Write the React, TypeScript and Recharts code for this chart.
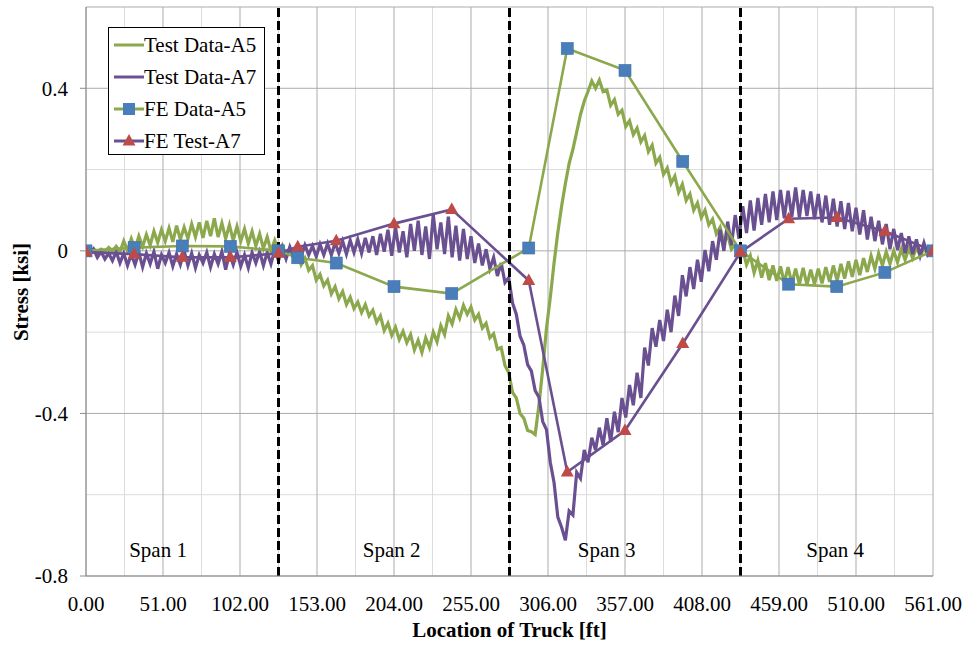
import React from 'react';
import {
  ComposedChart,
  Line,
  XAxis,
  YAxis,
  CartesianGrid,
  ReferenceLine,
  ReferenceDot,
  Legend,
} from 'recharts';

// ---------- data ----------
// Test readings were sampled every 2.5 ft of truck travel (0 ... 560 ft)
const SAMPLE_STEP = 2.5;

// Test Data-A5 (stress, ksi), rows of 8 readings = 20 ft each
const testA5: number[] = [
  0.000, -0.004, 0.005, -0.003, 0.004, -0.002, 0.008, -0.001, // 0
  0.011, -0.002, 0.024, 0.000, 0.030, 0.005, 0.036, 0.010, // 20
  0.040, 0.014, 0.048, 0.020, 0.052, 0.024, 0.056, 0.022, // 40
  0.062, 0.028, 0.058, 0.030, 0.066, 0.034, 0.070, 0.032, // 60
  0.074, 0.036, 0.080, 0.034, 0.068, 0.030, 0.064, 0.026, // 80
  0.060, 0.024, 0.054, 0.018, 0.048, 0.012, 0.042, 0.006, // 100
  0.034, 0.000, 0.026, -0.002, 0.014, -0.010, 0.006, -0.018, // 120
  -0.004, -0.034, -0.018, -0.048, -0.036, -0.072, -0.058, -0.086, // 140
  -0.072, -0.106, -0.088, -0.118, -0.100, -0.132, -0.114, -0.142, // 160
  -0.126, -0.152, -0.132, -0.160, -0.146, -0.176, -0.160, -0.196, // 180
  -0.178, -0.208, -0.188, -0.218, -0.198, -0.226, -0.206, -0.244, // 200
  -0.220, -0.250, -0.214, -0.238, -0.200, -0.224, -0.184, -0.206, // 220
  -0.160, -0.180, -0.144, -0.166, -0.134, -0.156, -0.138, -0.170, // 240
  -0.156, -0.190, -0.178, -0.214, -0.204, -0.242, -0.238, -0.282, // 260
  -0.300, -0.348, -0.362, -0.400, -0.412, -0.442, -0.445, -0.452, // 280
  -0.380, -0.290, -0.190, -0.115, -0.030, 0.045, 0.110, 0.165, // 300
  0.215, 0.250, 0.292, 0.335, 0.368, 0.392, 0.418, 0.400, // 320
  0.420, 0.392, 0.396, 0.358, 0.372, 0.336, 0.346, 0.306, // 340
  0.320, 0.286, 0.302, 0.268, 0.284, 0.244, 0.260, 0.216, // 360
  0.230, 0.188, 0.204, 0.166, 0.184, 0.144, 0.164, 0.124, // 380
  0.140, 0.100, 0.118, 0.082, 0.100, 0.064, 0.078, 0.042, // 400
  0.058, 0.022, 0.038, 0.004, 0.016, -0.012, 0.002, -0.034, // 420
  -0.012, -0.054, -0.024, -0.066, -0.030, -0.072, -0.036, -0.074, // 440
  -0.038, -0.078, -0.040, -0.080, -0.044, -0.082, -0.042, -0.084, // 460
  -0.046, -0.082, -0.044, -0.080, -0.040, -0.076, -0.036, -0.074, // 480
  -0.032, -0.068, -0.026, -0.064, -0.022, -0.060, -0.018, -0.052, // 500
  -0.012, -0.044, -0.006, -0.036, -0.002, -0.032, 0.000, -0.028, // 520
  0.004, -0.022, 0.006, -0.018, 0.008, -0.012, 0.006, -0.008, // 540
  0.000, // 560
];

// Test Data-A7 (stress, ksi)
const testA7: number[] = [
  0.000, -0.010, 0.004, -0.016, -0.002, -0.020, -0.006, -0.024, // 0
  -0.002, -0.030, -0.006, -0.036, -0.008, -0.034, -0.004, -0.040, // 20
  -0.006, -0.032, -0.002, -0.044, -0.010, -0.030, -0.004, -0.038, // 40
  -0.008, -0.034, 0.000, -0.036, -0.006, -0.042, -0.010, -0.030, // 60
  -0.004, -0.040, -0.008, -0.032, -0.002, -0.046, -0.006, -0.034, // 80
  -0.004, -0.038, -0.010, -0.042, -0.004, -0.030, -0.002, -0.036, // 100
  -0.004, -0.032, 0.002, -0.024, 0.006, -0.020, 0.010, -0.014, // 120
  0.012, -0.012, 0.014, -0.010, 0.012, -0.014, 0.016, -0.010, // 140
  0.018, -0.010, 0.020, -0.006, 0.024, -0.008, 0.026, -0.004, // 160
  0.028, -0.006, 0.032, -0.004, 0.036, -0.010, 0.042, -0.002, // 180
  0.052, -0.012, 0.058, -0.004, 0.048, -0.016, 0.066, 0.000, // 200
  0.074, -0.010, 0.060, -0.020, 0.090, 0.004, 0.070, -0.008, // 220
  0.084, -0.016, 0.062, -0.024, 0.054, -0.020, 0.036, -0.030, // 240
  0.018, -0.036, 0.004, -0.044, -0.016, -0.062, -0.030, -0.078, // 260
  -0.066, -0.128, -0.156, -0.210, -0.232, -0.280, -0.296, -0.344, // 280
  -0.360, -0.420, -0.440, -0.520, -0.570, -0.655, -0.680, -0.712, // 300
  -0.640, -0.650, -0.545, -0.560, -0.490, -0.520, -0.460, -0.490, // 320
  -0.435, -0.478, -0.412, -0.470, -0.396, -0.446, -0.362, -0.410, // 340
  -0.330, -0.380, -0.300, -0.362, -0.238, -0.282, -0.190, -0.236, // 360
  -0.170, -0.222, -0.145, -0.200, -0.110, -0.160, -0.060, -0.112, // 380
  -0.040, -0.094, -0.022, -0.076, 0.002, -0.050, 0.024, -0.022, // 400
  0.052, 0.000, 0.072, 0.014, 0.088, 0.030, 0.110, 0.044, // 420
  0.124, 0.050, 0.130, 0.064, 0.140, 0.070, 0.146, 0.076, // 440
  0.150, 0.080, 0.148, 0.084, 0.156, 0.082, 0.150, 0.086, // 460
  0.146, 0.078, 0.140, 0.070, 0.136, 0.064, 0.128, 0.060, // 480
  0.122, 0.054, 0.118, 0.048, 0.106, 0.040, 0.100, 0.028, // 500
  0.084, 0.024, 0.074, 0.016, 0.066, 0.004, 0.054, 0.002, // 520
  0.044, -0.006, 0.036, -0.008, 0.028, -0.012, 0.020, -0.010, // 540
  0.000, // 560
];

// FE model results
const feX: number[] = [0, 31.875, 63.75, 95.625, 127.5, 140.25, 165.75, 204, 242.25, 293.25, 318.75, 357, 395.25, 433.5, 465.375, 497.25, 529.125, 561];
const feA5: number[] = [0, 0.008, 0.012, 0.011, 0, -0.017, -0.03, -0.088, -0.105, 0.007, 0.498, 0.444, 0.22, 0, -0.082, -0.088, -0.053, 0];
const feA7: number[] = [-0.003, -0.008, -0.016, -0.016, -0.006, 0.01, 0.025, 0.067, 0.102, -0.073, -0.544, -0.442, -0.228, -0.003, 0.079, 0.082, 0.048, 0];

// axes
const xTicks: number[] = [0, 51, 102, 153, 204, 255, 306, 357, 408, 459, 510, 561];
const xMinor: number[] = [25.5, 76.5, 127.5, 178.5, 229.5, 280.5, 331.5, 382.5, 433.5, 484.5, 535.5];
const yTicks: number[] = [-0.8, -0.4, 0, 0.4];
const yMajorGrid: number[] = [-0.8, -0.4, 0, 0.4, 0.6];
const yMinorGrid: number[] = [-0.6, -0.2, 0.2];

// span boundaries (piers) and span names
const piers: number[] = [127.5, 280.5, 433.5];
const spanNames: string[] = ['Span 1', 'Span 2', 'Span 3', 'Span 4'];
const spanLabelX: number[] = [47.7, 202.4, 344.8, 496.2];

const seriesNames: string[] = ['Test Data-A5', 'Test Data-A7', 'FE Data-A5', 'FE Test-A7'];

// ---------- style ----------
const FONT = "'Liberation Serif', 'Times New Roman', Times, serif";
const GREEN = '#8BA84C';
const PURPLE = '#6A5090';
const BLUE = '#4A7EBB';
const RED = '#BE4B48';

const testA5Data = testA5.map((y, i) => ({ x: i * SAMPLE_STEP, y }));
const testA7Data = testA7.map((y, i) => ({ x: i * SAMPLE_STEP, y }));
const feA5Data = feX.map((x, i) => ({ x, y: feA5[i] }));
const feA7Data = feX.map((x, i) => ({ x, y: feA7[i] }));

const SquareDot = (props: any) => {
  const { cx, cy } = props;
  if (cx == null || cy == null) return null;
  return <rect x={cx - 6} y={cy - 6} width={12} height={12} fill={BLUE} stroke="#3F6FA8" strokeWidth={0.6} />;
};

const TriangleDot = (props: any) => {
  const { cx, cy } = props;
  if (cx == null || cy == null) return null;
  return <path d={`M${cx},${cy - 7} L${cx + 6.5},${cy + 4.5} L${cx - 6.5},${cy + 4.5} Z`} fill={RED} />;
};

const legendItems = [
  { name: seriesNames[0], color: GREEN, marker: 'none' },
  { name: seriesNames[1], color: PURPLE, marker: 'none' },
  { name: seriesNames[2], color: GREEN, marker: 'square' },
  { name: seriesNames[3], color: PURPLE, marker: 'triangle' },
];

const renderLegend = () => (
  <div
    style={{
      border: '1px solid #000',
      background: '#fff',
      width: 157,
      height: 128,
      boxSizing: 'border-box',
      paddingTop: 1,
      fontFamily: FONT,
      fontSize: 21,
      color: '#000',
    }}
  >
    {legendItems.map((it) => (
      <div key={it.name} style={{ display: 'flex', alignItems: 'center', height: 32, whiteSpace: 'nowrap' }}>
        <svg width={35} height={32} style={{ display: 'block', flex: 'none' }}>
          <line x1={5} x2={35} y1={16} y2={16} stroke={it.color} strokeWidth={3} />
          {it.marker === 'square' && <rect x={14} y={10} width={12} height={12} fill={BLUE} />}
          {it.marker === 'triangle' && <path d="M20,9 L26.5,20.5 L13.5,20.5 Z" fill={RED} />}
        </svg>
        <span style={{ lineHeight: '32px' }}>{it.name}</span>
      </div>
    ))}
  </div>
);

export default function App() {
  return (
    <div style={{ position: 'absolute', left: 0, top: 0, background: '#fff', fontFamily: FONT }}>
      <ComposedChart width={968} height={645} margin={{ top: 7, right: 35, bottom: 0, left: 0 }} style={{ fontFamily: FONT }}>
        <CartesianGrid stroke="#DCDCDC" strokeWidth={1} horizontalValues={yMinorGrid} verticalValues={xMinor} />
        <CartesianGrid stroke="#ABABAB" strokeWidth={1} horizontalValues={yMajorGrid} verticalValues={xTicks} />
        <XAxis
          type="number"
          dataKey="x"
          domain={[0, 561]}
          ticks={xTicks}
          interval={0}
          allowDataOverflow
          height={69}
          tickLine={false}
          tickSize={0}
          tickMargin={20}
          axisLine={{ stroke: '#8C8C8C' }}
          tick={{ fill: '#000', fontSize: 21, fontFamily: FONT }}
          tickFormatter={(v: number) => v.toFixed(2)}
          label={{
            value: 'Location of Truck [ft]',
            position: 'insideBottom',
            offset: 8,
            fill: '#000',
            fontSize: 21,
            fontWeight: 'bold',
            fontFamily: FONT,
          }}
        />
        <YAxis
          type="number"
          domain={[-0.8, 0.6]}
          ticks={yTicks}
          interval={0}
          allowDataOverflow
          width={86}
          tickSize={6}
          tickMargin={12}
          tickLine={{ stroke: '#8C8C8C' }}
          axisLine={{ stroke: '#8C8C8C' }}
          tick={{ fill: '#000', fontSize: 21, fontFamily: FONT }}
          tickFormatter={(v: number) => String(v)}
          label={{
            content: () => (
              <text
                x={28}
                y={292}
                transform="rotate(-90 28 292)"
                textAnchor="middle"
                fill="#000"
                fontSize={21}
                fontWeight="bold"
                fontFamily={FONT}
              >
                Stress [ksi]
              </text>
            ),
          }}
        />
        <Legend
          layout="vertical"
          align="center"
          verticalAlign="middle"
          content={renderLegend}
          wrapperStyle={{ left: 108, top: 27, width: 157, height: 128 }}
        />
        <Line
          data={testA5Data}
          dataKey="y"
          name={seriesNames[0]}
          type="linear"
          stroke={GREEN}
          strokeWidth={3.2}
          dot={false}
          isAnimationActive={false}
        />
        <Line
          data={testA7Data}
          dataKey="y"
          name={seriesNames[1]}
          type="linear"
          stroke={PURPLE}
          strokeWidth={3.2}
          dot={false}
          isAnimationActive={false}
        />
        <Line
          data={feA5Data}
          dataKey="y"
          name={seriesNames[2]}
          type="linear"
          stroke={GREEN}
          strokeWidth={2.6}
          dot={<SquareDot />}
          isAnimationActive={false}
        />
        <Line
          data={feA7Data}
          dataKey="y"
          name={seriesNames[3]}
          type="linear"
          stroke={PURPLE}
          strokeWidth={2.6}
          dot={<TriangleDot />}
          isAnimationActive={false}
        />
        {piers.map((p) => (
          <ReferenceLine key={p} x={p} stroke="#000" strokeWidth={3} strokeDasharray="9 4" />
        ))}
        {spanNames.map((s, i) => (
          <ReferenceDot
            key={s}
            x={spanLabelX[i]}
            y={-0.735}
            r={1}
            fill="none"
            stroke="none"
            label={{ value: s, position: 'center', fill: '#000', fontSize: 21, fontFamily: FONT }}
          />
        ))}
      </ComposedChart>
    </div>
  );
}
